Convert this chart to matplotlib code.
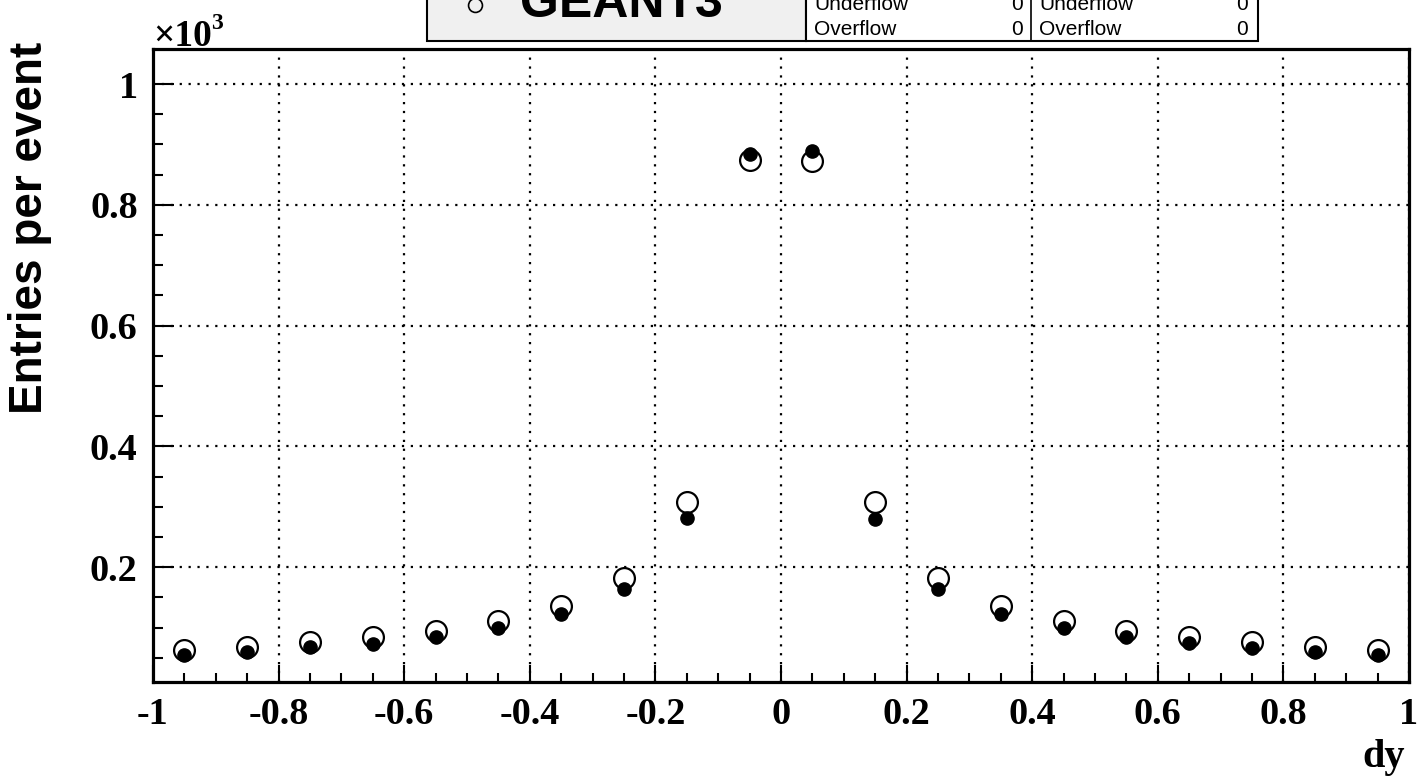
import numpy as np
import matplotlib
matplotlib.use("Agg")
import matplotlib.pyplot as plt
from matplotlib.patches import Rectangle
from matplotlib.lines import Line2D


# bin centres in dy
dy = [-0.95, -0.85, -0.75, -0.65, -0.55, -0.45, -0.35, -0.25, -0.15, -0.05,
      0.05, 0.15, 0.25, 0.35, 0.45, 0.55, 0.65, 0.75, 0.85, 0.95]

# GEANT3 (open circles), in units of 10^3
geant3 = [0.063, 0.068, 0.076, 0.085, 0.094, 0.111, 0.136, 0.182, 0.308, 0.874,
          0.873, 0.308, 0.182, 0.136, 0.111, 0.094, 0.085, 0.076, 0.068, 0.063]

# other simulation (filled circles)
geant4 = [0.055, 0.060, 0.068, 0.073, 0.085, 0.099, 0.123, 0.164, 0.282, 0.884,
          0.889, 0.280, 0.164, 0.122, 0.099, 0.085, 0.074, 0.066, 0.060, 0.055]

xticks = [-1, -0.8, -0.6, -0.4, -0.2, 0, 0.2, 0.4, 0.6, 0.8, 1]
xticklabels = ["-1", "-0.8", "-0.6", "-0.4", "-0.2", "0", "0.2", "0.4", "0.6", "0.8", "1"]
yticks = [0.2, 0.4, 0.6, 0.8, 1.0]
yticklabels = ["0.2", "0.4", "0.6", "0.8", "1"]

W, H = 1418, 779
SERIF = "Liberation Serif"
SANS = "Liberation Sans"


# pixel -> figure fraction (y measured from the top)
def px(x, y):
    return x / W, 1 - y / H


fig = plt.figure(figsize=(W / 100, H / 100), dpi=100)
l, t = px(153, 49)
r, b = px(1409, 682)
ax = fig.add_axes([l, b, r - l, t - b])

ax.plot(dy, geant3, 'o', ms=15, mfc='none', mec='black', mew=1.6, zorder=3)
ax.plot(dy, geant4, 'o', ms=9.5, mfc='black', mec='black', zorder=4)

ax.set_xlim(-1, 1)
ax.set_ylim(0.01, 1.058)
ax.set_xticks(xticks)
ax.set_xticklabels(xticklabels)
ax.set_yticks(yticks)
ax.set_yticklabels(yticklabels)
ax.set_xticks(np.arange(-0.95, 1.0, 0.05), minor=True)
ax.set_yticks(np.arange(0.05, 1.05, 0.05), minor=True)
ax.grid(True, which='major', color='black', linestyle=(0, (1, 3)), linewidth=1.6)

for lab in ax.get_xticklabels() + ax.get_yticklabels():
    lab.set_fontfamily(SERIF)
    lab.set_fontweight('bold')
    lab.set_fontsize(27.5)

ax.tick_params(axis='x', which='major', direction='in', length=12, width=1.5, pad=11)
ax.tick_params(axis='x', which='minor', direction='in', length=6.5, width=1.5)
ax.tick_params(axis='y', which='major', direction='in', length=15, width=1.5, pad=11)
ax.tick_params(axis='y', which='minor', direction='in', length=7, width=1.5)
for s in ax.spines.values():
    s.set_linewidth(2.3)

# axis titles, ROOT style
x0, y0 = px(30, 42)
fig.text(x0, y0, "Entries per event", rotation=90, ha='center', va='top',
         fontsize=33, fontweight='bold', family=SANS)
x0, y0 = px(1405, 767)
fig.text(x0, y0, "dy", ha='right', va='baseline', fontsize=29,
         fontweight='bold', family=SERIF)
x0, y0 = px(153, 46)
fig.text(x0, y0, "\u00d710", ha='left', va='baseline', fontsize=27,
         fontweight='bold', family=SERIF)
x0, y0 = px(211, 29)
fig.text(x0, y0, "3", ha='left', va='baseline', fontsize=17,
         fontweight='bold', family=SERIF)

# legend box, cut by the top of the canvas
x0, y0 = px(427, 41)
x1, _ = px(806, 0)
fig.add_artist(Rectangle((x0, y0), x1 - x0, 0.2, transform=fig.transFigure,
                         facecolor='#f0f0f0', edgecolor='black', lw=1.5, clip_on=False))
mx, my = px(475, 5)
fig.add_artist(Line2D([mx], [my], marker='o', ms=10, mfc='none', mec='black',
                      mew=1.2, transform=fig.transFigure))
x0, y0 = px(520, 17)
fig.text(x0, y0, "GEANT3", ha='left', va='baseline', fontsize=36,
         fontweight='bold', family=SANS)

# statistics boxes
sx0, sy0 = px(806, 41)
sx1, _ = px(1258, 0)
fig.add_artist(Rectangle((sx0, sy0), sx1 - sx0, 0.2, transform=fig.transFigure,
                         facecolor='white', edgecolor='black', lw=1.5, clip_on=False))
dx, _ = px(1031, 0)
fig.add_artist(Line2D([dx, dx], [sy0, 1.0], color='black', lw=1.2,
                      transform=fig.transFigure))
rows = [("Underflow", "0"), ("Overflow", "0")]
for i, (name, val) in enumerate(rows):
    yy = px(0, 10 + 25 * i)[1]
    for left, right in [(814, 1023), (1039, 1248)]:
        fig.text(left / W, yy, name, ha='left', va='baseline', fontsize=15, family=SANS)
        fig.text(right / W, yy, val, ha='right', va='baseline', fontsize=15, family=SANS)

fig.savefig("out.png", dpi=100)
